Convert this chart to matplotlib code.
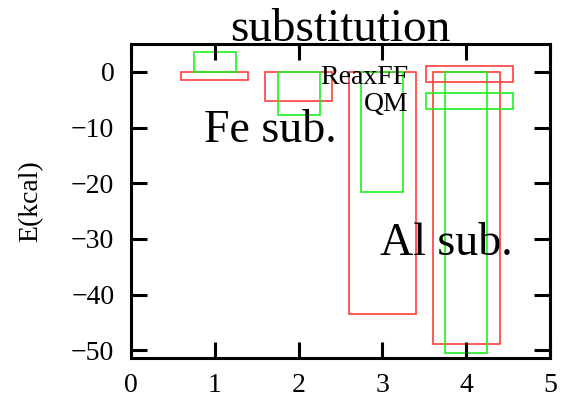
import matplotlib
matplotlib.use("Agg")
import matplotlib.pyplot as plt
from matplotlib.patches import Rectangle

# substitution energies (kcal) for each configuration
sites = [1, 2, 3, 4]
reaxff = [-1.5, -5.3, -43.5, -48.8]
qm = [3.5, -7.8, -21.5, -50.5]
xticks = [0, 1, 2, 3, 4, 5]
yticks = [0, -10, -20, -30, -40, -50]

plt.rcParams["font.family"] = ["Liberation Serif", "DejaVu Serif"]

fig = plt.figure(figsize=(5.67, 3.97), dpi=100)
ax = fig.add_axes([0.231, 0.098, 0.739, 0.791])

red = "#ff3c3c"
green = "#1ef01e"
ax.bar(sites, reaxff, width=0.8, fill=False, edgecolor=red, linewidth=1.2, label="ReaxFF")
ax.bar(sites, qm, width=0.5, fill=False, edgecolor=green, linewidth=1.2, label="QM")

ax.set_xlim(0, 5)
ax.set_ylim(-51.4, 5)
ax.set_xticks(xticks)
ax.set_yticks(yticks)
ax.set_yticklabels([str(v).replace("-", "\u2212") for v in yticks])
ax.tick_params(direction="in", length=11.5, width=2.2, top=True, right=True,
               labelsize=20, colors="black")
ax.tick_params(axis="y", pad=12)
ax.tick_params(axis="x", pad=11)
for s in ax.spines.values():
    s.set_linewidth(2.2)

ax.set_ylabel("E(kcal)", fontsize=20, labelpad=20)
ax.set_title("substitution", fontsize=34, pad=2)

ax.text(0.87, -12.5, "Fe sub.", fontsize=33, ha="left", va="baseline")
ax.text(2.97, -32.9, "Al sub.", fontsize=33, ha="left", va="baseline")

handles = [Rectangle((0, 0), 1, 1, fill=False, edgecolor=red, linewidth=1.2),
           Rectangle((0, 0), 1, 1, fill=False, edgecolor=green, linewidth=1.2)]
ax.legend(handles, ["ReaxFF", "QM"], loc="upper right", markerfirst=False,
          frameon=False, fontsize=20, handlelength=3.13, handleheight=0.5,
          labelspacing=0.08, handletextpad=0.65, borderaxespad=0,
          bbox_to_anchor=(0.939, 0.969))

fig.savefig("out.png", dpi=100)
